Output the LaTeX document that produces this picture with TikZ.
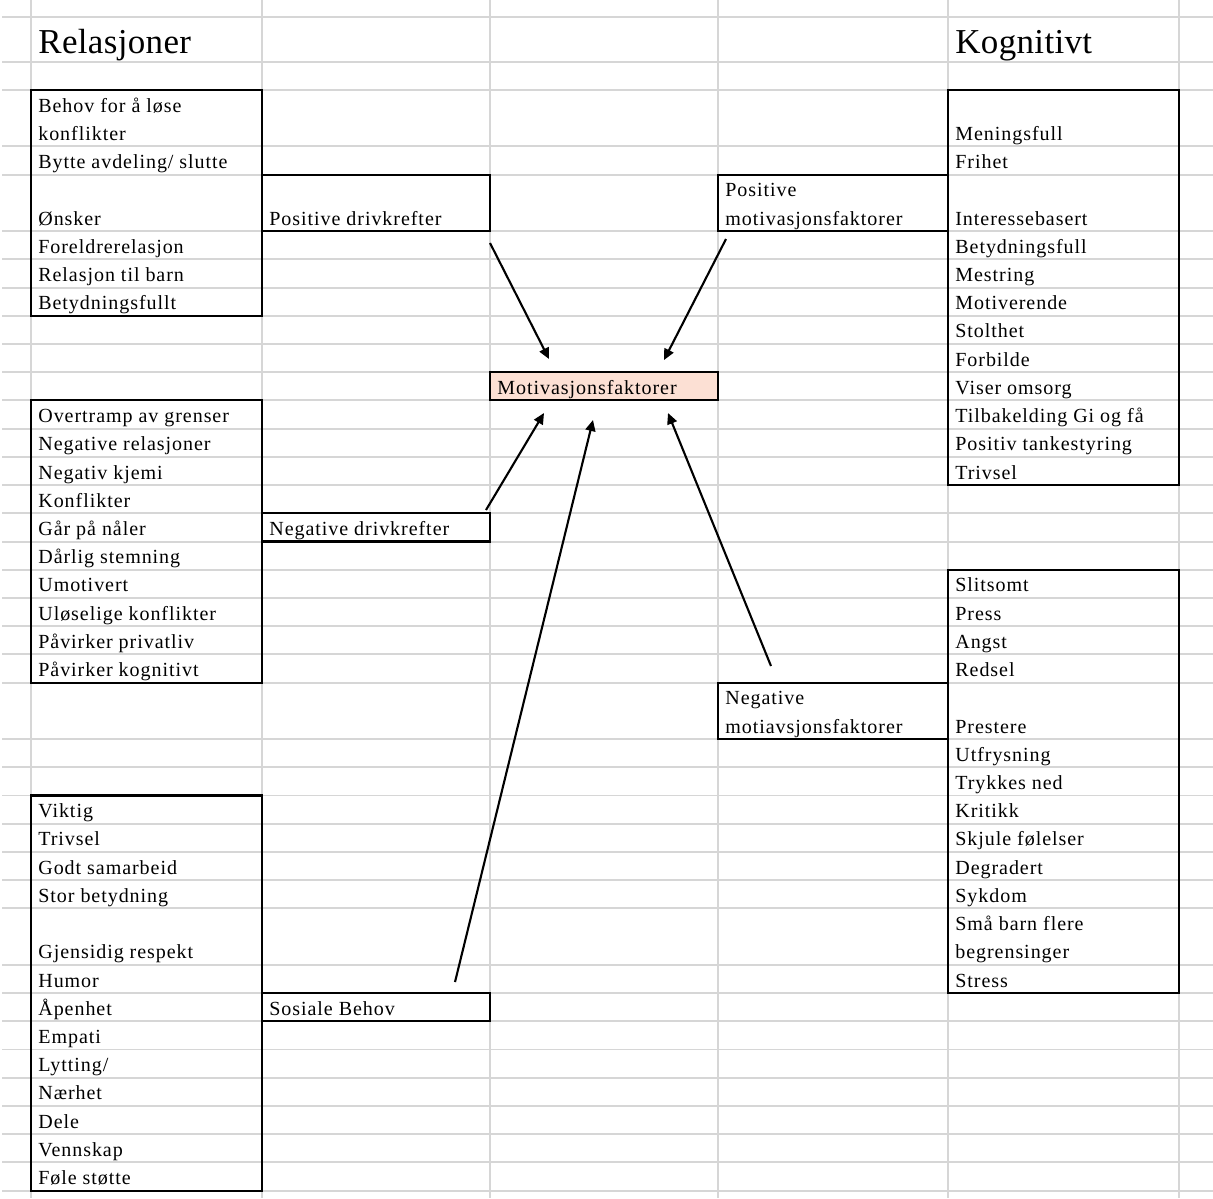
\documentclass[tikz,border=0pt]{standalone}
\usepackage{fontspec}
\setmainfont{Liberation Serif}[LetterSpace=4.7]
\newfontfamily\headfont{Liberation Serif}[LetterSpace=1]
\usetikzlibrary{arrows.meta}
\definecolor{gridgray}{RGB}{214,214,214}
\definecolor{motivfill}{RGB}{252,224,212}
\tikzset{
  gridline/.style={draw=gridgray, line width=1.1pt},
  cellbox/.style={draw=black, line width=1.2pt},
  txt/.style={anchor=base west, inner sep=0pt, font=\fontsize{11.4}{13}\selectfont},
  head/.style={anchor=base west, inner sep=0pt, font=\headfont\fontsize{19.9}{22}\selectfont},
  pil/.style={line width=1.2pt, -{Triangle[length=0.22cm, width=0.2cm]}}
}

\begin{document}
\begin{tikzpicture}[x=0.02cm, y=-0.02cm]
        \useasboundingbox (0,0) rectangle (1213,1198);
        \foreach \k in {0,2,3,5,6,...,21,23,24,...,29,31,32,...,39}
            \draw[gridline] (2,{90+28.22*\k}) -- (1213,{90+28.22*\k});
        \draw[gridline] (2,17) -- (1213,17);
        \draw[gridline] (2,62) -- (1213,62);
        \foreach \x in {31,262,490,718,948,1179}
            \draw[gridline] (\x,0) -- (\x,1198);

        \draw[cellbox] (31,90) rectangle (262,315.8);
        \draw[cellbox] (262,174.7) rectangle (490,231.1);
        \draw[cellbox] (718,174.7) rectangle (948,231.1);
        \draw[cellbox] (948,90) rectangle (1179,485.1);
        \draw[cellbox, fill=motivfill] (490,372.2) rectangle (718,400.4);
        \draw[cellbox] (31,400.4) rectangle (262,682.6);
        \draw[cellbox] (262,513.3) rectangle (490,541.5);
        \draw[cellbox] (948,569.7) rectangle (1179,993);
        \draw[cellbox] (718,682.6) rectangle (948,739.1);
        \draw[cellbox] (31,795.5) rectangle (262,1190.6);
        \draw[cellbox] (262,993) rectangle (490,1021.3);

        \node[head] (relasjoner) at (38,53) {Relasjoner};
        \node[head] (kognitivt)  at (955,53) {Kognitivt};

        \foreach \t/\j [count=\i] in {Behov for å løse/0, konflikter/1, {Bytte avdeling/ slutte}/2,
                Ønsker/4, Foreldrerelasjon/5, Relasjon til barn/6, Betydningsfullt/7}
            \node[txt] (rel\i) at (38,{112.22+28.22*\j}) {\t};
        \foreach \t/\j [count=\i] in {Meningsfull/1, Frihet/2, Interessebasert/4, Betydningsfull/5,
                Mestring/6, Motiverende/7, Stolthet/8, Forbilde/9, Viser omsorg/10,
                Tilbakelding Gi og få/11, Positiv tankestyring/12, Trivsel/13}
            \node[txt] (kog\i) at (955,{112.22+28.22*\j}) {\t};
        \foreach \t/\j [count=\i] in {Overtramp av grenser/11, Negative relasjoner/12, Negativ kjemi/13,
                Konflikter/14, Går på nåler/15, Dårlig stemning/16, Umotivert/17,
                Uløselige konflikter/18, Påvirker privatliv/19, Påvirker kognitivt/20}
            \node[txt] (neg\i) at (38,{112.22+28.22*\j}) {\t};
        \foreach \t/\j [count=\i] in {Slitsomt/17, Press/18, Angst/19, Redsel/20, Prestere/22,
                Utfrysning/23, Trykkes ned/24, Kritikk/25, Skjule følelser/26, Degradert/27,
                Sykdom/28, Små barn flere/29, begrensinger/30, Stress/31}
            \node[txt] (str\i) at (955,{112.22+28.22*\j}) {\t};
        \foreach \t/\j [count=\i] in {Viktig/25, Trivsel/26, Godt samarbeid/27, Stor betydning/28,
                Gjensidig respekt/30, Humor/31, Åpenhet/32, Empati/33, {Lytting/}/34,
                Nærhet/35, Dele/36, Vennskap/37, Føle støtte/38}
            \node[txt] (sos\i) at (38,{112.22+28.22*\j}) {\t};

        \node[txt] (posdriv)  at (269,225.1) {Positive drivkrefter};
        \node[txt] (posmot)   at (725,196.9) {Positive};
        \node[txt] (posmot2)  at (725,225.1) {motivasjonsfaktorer};
        \node[txt] (motiv)    at (497,394.4) {Motivasjonsfaktorer};
        \node[txt] (negdriv)  at (269,535.5) {Negative drivkrefter};
        \node[txt] (negmot)   at (725,704.8) {Negative};
        \node[txt] (negmot2)  at (725,733.1) {motiavsjonsfaktorer};
        \node[txt] (sosbehov) at (269,1015.3) {Sosiale Behov};

        \coordinate (pd)  at (490,243);
        \coordinate (pdm) at (549,359);
        \coordinate (pm)  at (726,239);
        \coordinate (pmm) at (664,360);
        \coordinate (nd)  at (486,510);
        \coordinate (ndm) at (544,413);
        \coordinate (sb)  at (455,982);
        \coordinate (sbm) at (593,420);
        \coordinate (nm)  at (771,666);
        \coordinate (nmm) at (668,413);
        \draw[pil] (pd) -- (pdm);
        \draw[pil] (pm) -- (pmm);
        \draw[pil] (nd) -- (ndm);
        \draw[pil] (sb) -- (sbm);
        \draw[pil] (nm) -- (nmm);
    \end{tikzpicture}
\end{document}
